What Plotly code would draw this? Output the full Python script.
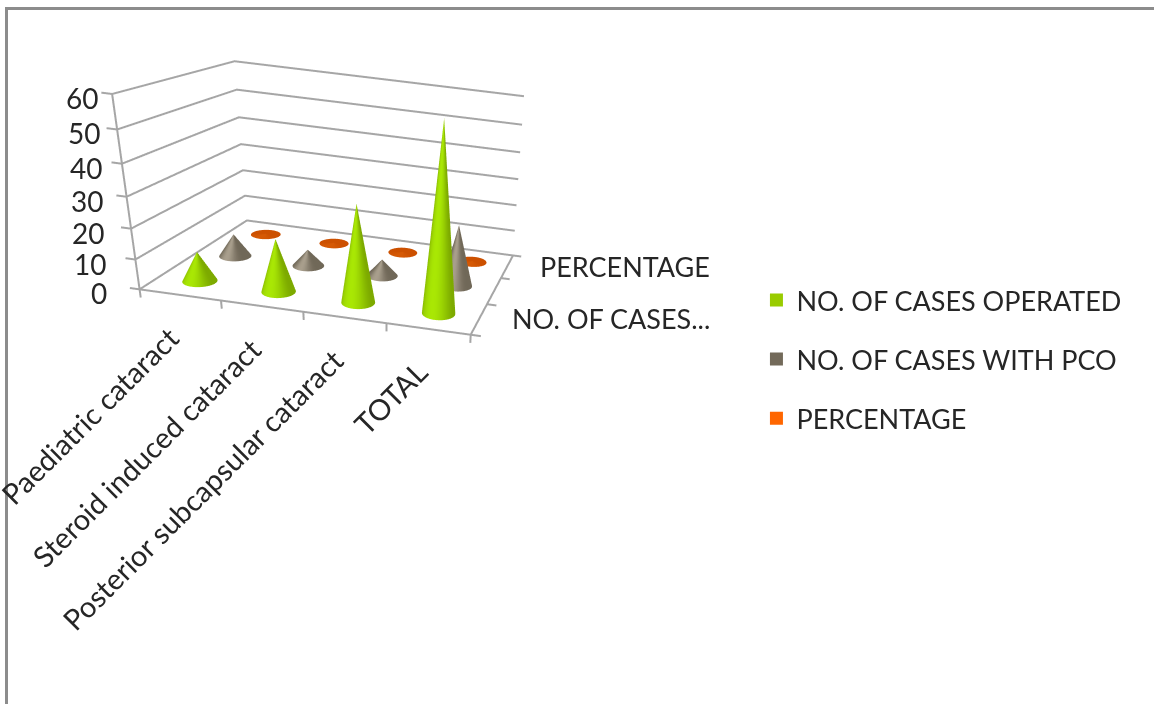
import numpy as np
import plotly.graph_objects as go

# Chart values
categories = ["Paediatric cataract", "Steroid induced cataract", "Posterior subcapsular cataract", "TOTAL"]
series_names = ["NO. OF CASES OPERATED", "NO. OF CASES WITH PCO", "PERCENTAGE"]
depth_labels = ["NO. OF CASES...", "", "PERCENTAGE"]
operated = [10, 18, 33, 62]
with_pco = [8, 6, 6, 22]
percentage = [0.3, 0.3, 0.3, 0.3]
value_ticks = [0, 10, 20, 30, 40, 50, 60]

W, H = 1154, 704
LEGEND_COLORS = ["#99CC00", "#736A5A", "#FF6600"]
# (edge shade, lit shade, highlight sharpness) for the cone surfaces
CONE_SHADES = [((125, 170, 0), (170, 232, 5), 2),
               ((112, 104, 88), (170, 160, 142), 5),
               ((204, 80, 0), (214, 90, 5), 2)]
GRID = "#A6A6A6"
INK = "#262626"
FONT = "Lato"
N_SEG = 48
RX, RY = 0.2, 0.215
X0, X1 = -0.5, 3.5
Y0, Y1 = -0.5, 2.5
X_TICKS = [-0.5, 0.5, 1.5, 2.5, 3.5]
Y_TICKS = [-0.5, 0.5, 1.5, 2.5]


def cone(xc, yc, height, shades):
    """Vertices and faces of a cone standing on the floor, shaded around its side."""
    th = np.linspace(0, 2 * np.pi, N_SEG, endpoint=False)
    bx, by = xc + RX * np.cos(th), yc + RY * np.sin(th)
    xs = np.r_[bx, np.full(N_SEG, xc), xc]
    ys = np.r_[by, np.full(N_SEG, yc), yc]
    zs = np.r_[np.zeros(N_SEG), np.full(N_SEG, height), 0.0]
    lit = np.clip(np.sin(th - np.radians(-10)) * -1, 0, 1) ** shades[2]
    lo, hi = np.array(shades[0]), np.array(shades[1])
    rgb = lo[None, :] + lit[:, None] * (hi - lo)[None, :]
    rgb = np.r_[rgb, rgb, rgb[:1]].astype(int)
    colors = [f"rgb({r},{g},{b})" for r, g, b in rgb]
    nxt = (np.arange(N_SEG) + 1) % N_SEG
    cur = np.arange(N_SEG)
    i = np.r_[cur, N_SEG + cur, np.full(N_SEG, 2 * N_SEG)]
    j = np.r_[nxt, nxt, cur]
    k = np.r_[N_SEG + cur, N_SEG + nxt, nxt]
    return xs, ys, zs, i, j, k, colors


fig = go.Figure()

# Wall gridlines, axis edges and tick marks, drawn as thick 3D lines
fx, fy, fz = [], [], []
for z in value_ticks:
    fx += [X0, X0, X1, None, X0 - 0.12, X0, None]
    fy += [Y0, Y1, Y1, None, Y0, Y0, None]
    fz += [z, z, z, None, z, z, None]
fx += [X0, X0, None, X0, X1, X1, None]
fy += [Y0, Y0, None, Y0, Y0, Y1, None]
fz += [0, 60, None, 0, 0, 0, None]
for t in X_TICKS:
    fx += [t, t, None]; fy += [Y0, Y0, None]; fz += [0, -2.8, None]
for t in Y_TICKS:
    fx += [X1, X1 + 0.12, None]; fy += [t, t, None]; fz += [0, 0, None]
fig.add_trace(go.Scatter3d(x=fx, y=fy, z=fz, mode="lines", line=dict(color=GRID, width=4),
                           showlegend=False, hoverinfo="skip"))

for s, values in enumerate([operated, with_pco, percentage]):
    for c, v in enumerate(values):
        xs, ys, zs, i, j, k, colors = cone(c, s, v, CONE_SHADES[s])
        fig.add_trace(go.Mesh3d(
            x=xs, y=ys, z=zs, i=i, j=j, k=k, vertexcolor=colors,
            flatshading=False, showlegend=False, legendgroup=series_names[s],
            name=series_names[s], hoverinfo="skip",
            lighting=dict(ambient=1, diffuse=0, specular=0, roughness=1, fresnel=0),
        ))
    fig.add_trace(go.Scatter3d(
        x=[None], y=[None], z=[None], mode="markers", name=series_names[s],
        legendgroup=series_names[s],
        marker=dict(symbol="square", size=13, color=LEGEND_COLORS[s], line=dict(width=0)),
    ))

notes = []
for z in value_ticks:
    notes.append(dict(x=X0, y=Y0, z=z, text=str(z), showarrow=False, xanchor="right",
                      xshift=-31 + 19 * z / 60, yshift=-4,
                      font=dict(family=FONT, size=28, color=INK)))
for c, name in enumerate(categories):
    notes.append(dict(x=c, y=Y0, z=0, text=name, showarrow=False, textangle=-45,
                      xanchor="right", yanchor="top", xshift=8, yshift=-22,
                      font=dict(family=FONT, size=29, color=INK)))
for s, name in enumerate(depth_labels):
    if name:
        notes.append(dict(x=X1, y=s, z=0, text=name, showarrow=False, xanchor="left",
                          xshift=31, font=dict(family=FONT, size=27, color=INK)))

hidden_axis = dict(showbackground=False, showticklabels=False, zeroline=False, showspikes=False,
                   showline=False, ticks="", showgrid=False, title=dict(text=""))
# Scene ranges carry a symmetric margin so edge lines and tick marks are not clipped
fig.update_layout(
    width=W, height=H, margin=dict(l=0, r=0, t=0, b=0),
    paper_bgcolor="white", font=dict(family=FONT),
    legend=dict(x=0.6555, y=0.608, xanchor="left", yanchor="top", tracegroupgap=21,
                font=dict(family=FONT, size=27, color=INK), bgcolor="rgba(0,0,0,0)"),
    shapes=[
        dict(type="line", xref="paper", yref="paper", x0=7 / W, x1=1, y0=1 - 8.5 / H, y1=1 - 8.5 / H,
             line=dict(color="#8C8C8C", width=3)),
        dict(type="line", xref="paper", yref="paper", x0=6.5 / W, x1=6.5 / W, y0=0, y1=1 - 7 / H,
             line=dict(color="#8C8C8C", width=3)),
    ],
    scene=dict(
        domain=dict(x=[0, 1], y=[0, 1]),
        xaxis=dict(hidden_axis, range=[X0 - 0.15, X1 + 0.15]),
        yaxis=dict(hidden_axis, range=[Y0 - 0.15, Y1 + 0.15]),
        zaxis=dict(hidden_axis, range=[-5, 65]),
        aspectmode="manual",
        aspectratio=dict(x=1.24474, y=0.88715, z=0.76323),
        camera=dict(eye=dict(x=1.0976, y=-2.9455, z=0.9186),
                    center=dict(x=0.9223, y=-0.0994, z=-0.4871),
                    up=dict(x=-0.1413, y=0.3852, z=1.0)),
        annotations=notes,
    ),
)
fig.write_html("out.html")
